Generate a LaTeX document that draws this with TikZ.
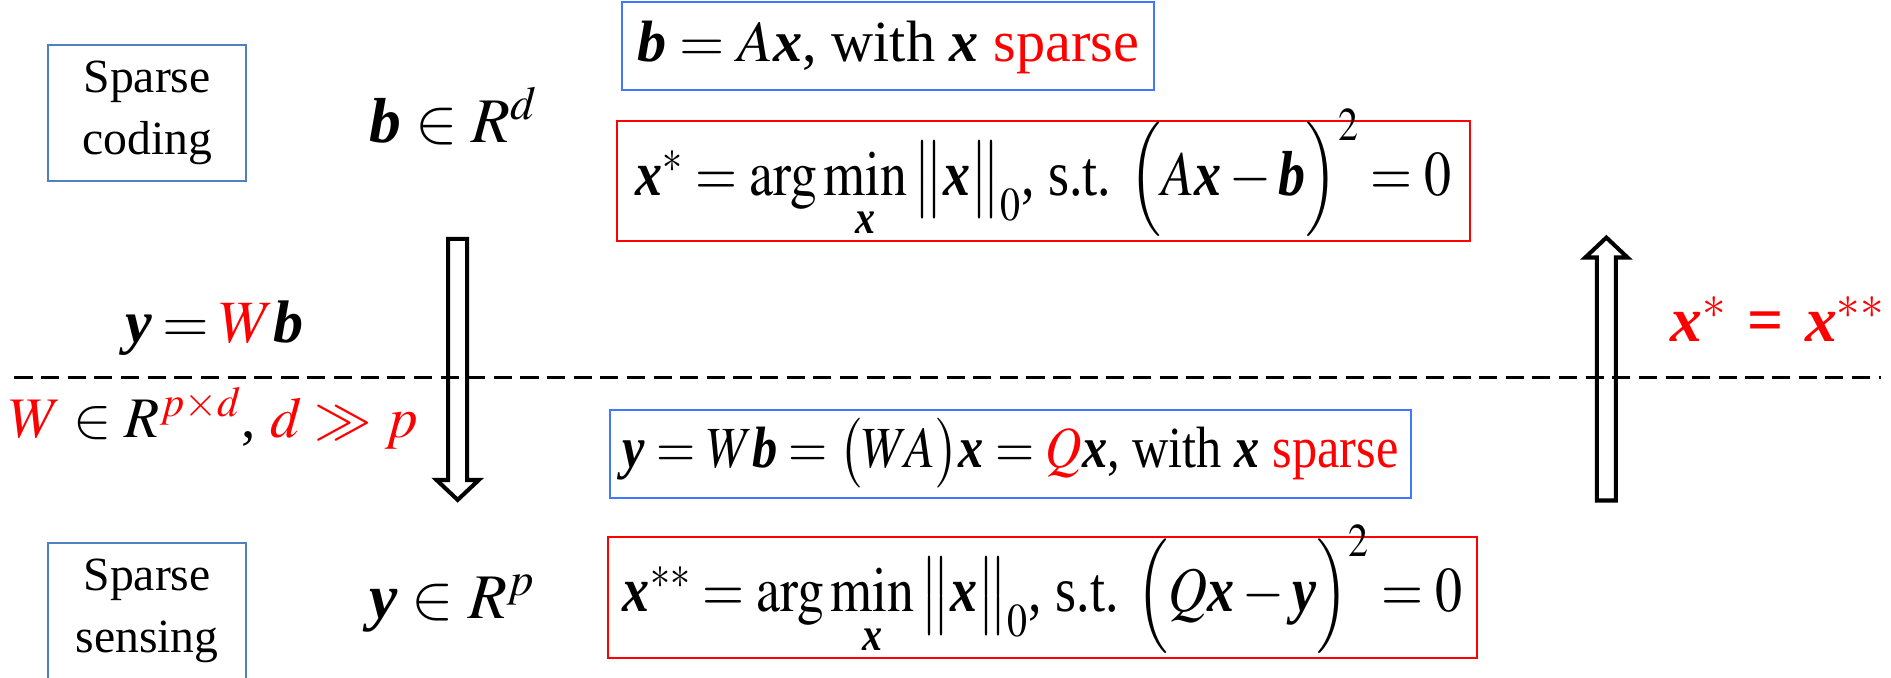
\documentclass[tikz,border=0pt]{standalone}
\usepackage{amsmath}
\usepackage{mathptmx}
\usepackage[no-math]{fontspec}
\setmainfont{Liberation Serif}
\usetikzlibrary{positioning}

\definecolor{boxblue}{RGB}{79,129,189}
\definecolor{eqblue}{RGB}{66,120,255}
\newcommand{\vb}[1]{\textbf{\textit{#1}}}
\newcommand{\squeeze}[2]{\scalebox{#1}[1]{#2}}

\begin{document}
\begin{tikzpicture}[x=0.024cm, y=-0.024cm,
        every node/.style={inner sep=0pt},
        tagbox/.style={draw=boxblue, line width=1.1pt, minimum width=3.94cm, minimum height=2.71cm, align=center, font=\fontsize{27}{35}\selectfont},
        eqbox/.style={draw=eqblue, line width=1.1pt},
        argbox/.style={draw=red, line width=1.1pt, text height=1.49cm, text depth=0.91cm},
        formula/.style={anchor=base, font=\fontsize{35}{40}\selectfont},
        hollow/.style={draw, line width=2.3pt, line join=miter},
        cut/.style={line width=1.2pt, dash pattern=on 0.36cm off 0.17cm}]
        \useasboundingbox (0,0) rectangle (1568,562);

        % left column
        \node [tagbox] (coding) at (122,93.5) {Sparse\\coding};
        \node [tagbox] (sensing) at (122,506.5) {Sparse\\sensing};
        \node [formula, font=\fontsize{36}{40}\selectfont] (bd) at (376,118) {$\vb{b} \in R^{d}$};
        \node [formula, font=\fontsize{34}{40}\selectfont] (proj) at (178,284) {$\thickmuskip=3mu \vb{y} = {\color{red}W}\vb{b}$};
        \node [formula, font=\fontsize{32.5}{40}\selectfont] (dims) at (177,363) {${\color{red}W} \in R^{\color{red}p\times d}$, ${\color{red}d \gg p}$};
        \node [formula, font=\fontsize{36}{40}\selectfont] (yp) at (375,513) {$\vb{y} \in R^{p}$};

        % sparse coding problem
        \node [eqbox, minimum width=10.58cm, text height=1.18cm, text depth=0.58cm, font=\fontsize{33}{40}\selectfont] (model) at (736.5,38.3) {$\vb{b} = A\vb{x}$, with $\vb{x}$ \textcolor{red}{sparse}};
        \node [argbox, minimum width=16.97cm, font=\fontsize{36}{42}\selectfont] (codesol) at (865.5,150) {\squeeze{0.85}{$\vb{x}^{*} = \arg\min\limits_{\vb{x}}\big\|\vb{x}\big\|_{0}$, s.t. $\Big(A\vb{x} - \vb{b}\Big)^{2} = 0$}};

        % sparse sensing problem
        \node [eqbox, minimum width=15.94cm, text height=1.15cm, text depth=0.60cm, font=\fontsize{33}{40}\selectfont] (measure) at (838,376.5) {\squeeze{0.865}{$\vb{y} = W\vb{b} = \big(WA\big)\vb{x} = {\color{red}Q}\vb{x}$, with $\vb{x}$ \textcolor{red}{sparse}}};
        \node [argbox, minimum width=17.30cm, font=\fontsize{36}{42}\selectfont] (sensesol) at (864.5,495.3) {\squeeze{0.85}{$\vb{x}^{**} = \arg\min\limits_{\vb{x}}\big\|\vb{x}\big\|_{0}$, s.t. $\Big(Q\vb{x} - \vb{y}\Big)^{2} = 0$}};

        \node [formula, font=\fontsize{36}{40}\selectfont, text=red] (equal) at (1474,283.5) {$\vb{x}^{*}\,\mathrel{\textbf{=}}\,\vb{x}^{**}$};

        % hollow arrows
        \coordinate (downtail) at (379.5,198);
        \coordinate (uptail) at (1332,415);
        \draw [hollow] (downtail) ++(-7.9,0) -- ++(15.8,0) -- ++(0,200) -- ++(9.6,0) -- ++(-17.5,16.5) -- ++(-17.5,-16.5) -- ++(9.6,0) -- cycle;
        \draw [hollow] (uptail) ++(-7.9,0) -- ++(15.8,0) -- ++(0,-201.5) -- ++(9.6,0) -- ++(-17.5,-16.5) -- ++(-17.5,16.5) -- ++(9.6,0) -- cycle;

        % divider
        \draw [cut] (12,313) -- (1560,313);
    \end{tikzpicture}
\end{document}
